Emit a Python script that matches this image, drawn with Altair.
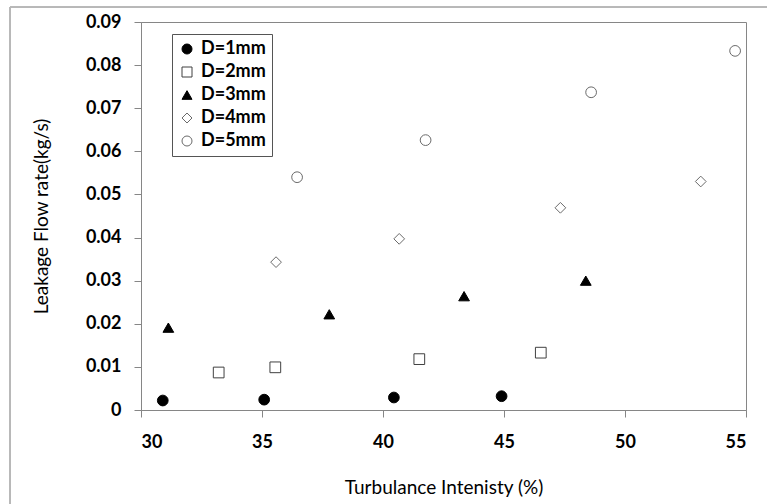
import altair as alt
import pandas as pd

series = ["D=1mm", "D=2mm", "D=3mm", "D=4mm", "D=5mm"]
x_d1 = [30.90, 35.09, 40.45, 44.90]
y_d1 = [0.0022, 0.0024, 0.0029, 0.0032]
x_d2 = [33.21, 35.55, 41.50, 46.52]
y_d2 = [0.0087, 0.0099, 0.0118, 0.0133]
x_d3 = [31.13, 37.78, 43.35, 48.38]
y_d3 = [0.0191, 0.0222, 0.0264, 0.0300]
x_d4 = [35.58, 40.67, 47.33, 53.13]
y_d4 = [0.0343, 0.0397, 0.0469, 0.0530]
x_d5 = [36.45, 41.76, 48.60, 54.55]
y_d5 = [0.0540, 0.0626, 0.0737, 0.0833]

x_ticks = [30, 35, 40, 45, 50, 55]
y_ticks = [0, 0.01, 0.02, 0.03, 0.04, 0.05, 0.06, 0.07, 0.08, 0.09]

rows = []
for name, xs, ys in zip(series, [x_d1, x_d2, x_d3, x_d4, x_d5], [y_d1, y_d2, y_d3, y_d4, y_d5]):
    for xv, yv in zip(xs, ys):
        rows.append({"D": name, "ti": xv, "flow": yv})
df = pd.DataFrame(rows)

FONT = "Lato"
AX = "#868686"

shapes = ["circle", "square", "triangle-up", "diamond", "circle"]
fills = ["#000000", "#ffffff", "#000000", "#ffffff", "#ffffff"]
strokes = ["#000000", "#404040", "#000000", "#6a6a6a", "#6a6a6a"]

legend = alt.Legend(
    title=None, orient="none", legendX=31, legendY=12,
    strokeColor="#555555", fillColor="#ffffff", padding=6,
    labelFont=FONT, labelFontWeight="bold", labelFontSize=18, labelColor="#000000",
    symbolStrokeWidth=1, rowPadding=5, labelOffset=5, symbolSize=100,
)

points = alt.Chart(df).mark_point(filled=True, opacity=1, strokeWidth=1, size=115).encode(
    x=alt.X("ti:Q", scale=alt.Scale(domain=[30, 55], nice=False, zero=False),
            axis=alt.Axis(values=x_ticks, title="Turbulance Intenisty (%)",
                          labelPadding=16, titleX=302.5, titleY=77,
                          titleBaseline="middle", titleAlign="center")),
    y=alt.Y("flow:Q", scale=alt.Scale(domain=[0, 0.09], nice=False),
            axis=alt.Axis(values=y_ticks, format=".2~f", title="Leakage Flow rate(kg/s)",
                          labelPadding=13, titleX=-100, titleY=194, titleAngle=-90,
                          titleBaseline="middle", titleAlign="center")),
    shape=alt.Shape("D:N", scale=alt.Scale(domain=series, range=shapes), legend=legend),
    fill=alt.Fill("D:N", scale=alt.Scale(domain=series, range=fills), legend=legend),
    stroke=alt.Stroke("D:N", scale=alt.Scale(domain=series, range=strokes), legend=legend),
)

frame = alt.Chart(df).mark_rect(fill=None, stroke="#b8b8b8", strokeWidth=1).encode(
    x=alt.value(-131), x2=alt.value(700), y=alt.value(-15), y2=alt.value(600)
)

chart = alt.layer(frame, points).properties(
    width=605, height=388,
    autosize=alt.AutoSizeParams(type="none"),
    padding={"left": 141, "top": 22, "right": 21, "bottom": 94},
    background="#ffffff",
).configure_view(
    stroke=AX, strokeWidth=1
).configure_axis(
    grid=False, domainColor=AX, tickColor=AX, tickSize=7,
    labelFont=FONT, labelFontWeight="bold", labelFontSize=18, labelColor="#000000",
    titleFont=FONT, titleFontWeight="normal", titleFontSize=19, titleColor="#000000",
)

chart.save("out.html", embed_options={"renderer": "svg", "actions": False})
